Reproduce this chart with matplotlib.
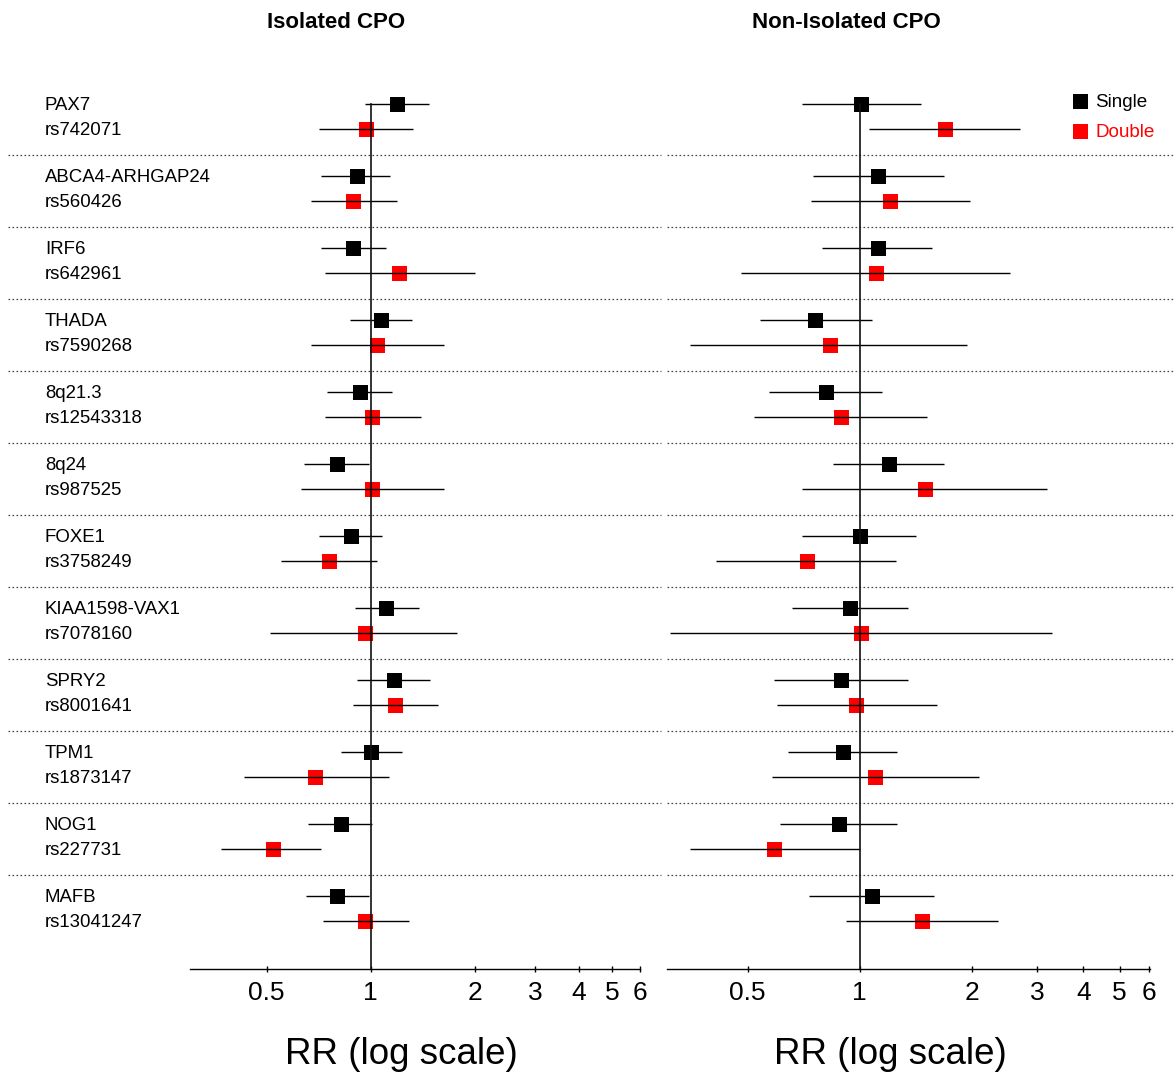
import numpy as np
import matplotlib
matplotlib.use("Agg")
import matplotlib.pyplot as plt
import matplotlib.transforms as mtransforms
from matplotlib.lines import Line2D

plt.rcParams['font.family'] = ['Liberation Sans', 'DejaVu Sans']

# ---------------- data ----------------
genes = ["PAX7", "ABCA4-ARHGAP24", "IRF6", "THADA", "8q21.3", "8q24", "FOXE1",
         "KIAA1598-VAX1", "SPRY2", "TPM1", "NOG1", "MAFB"]
snps = ["rs742071", "rs560426", "rs642961", "rs7590268", "rs12543318", "rs987525",
        "rs3758249", "rs7078160", "rs8001641", "rs1873147", "rs227731", "rs13041247"]

# Isolated CPO
iso_single_rr = [1.19, 0.91, 0.89, 1.07, 0.93, 0.80, 0.88, 1.11, 1.17, 1.00, 0.82, 0.80]
iso_single_lo = [0.96, 0.72, 0.72, 0.87, 0.75, 0.64, 0.71, 0.90, 0.91, 0.82, 0.66, 0.65]
iso_single_hi = [1.48, 1.14, 1.11, 1.32, 1.15, 0.99, 1.08, 1.38, 1.49, 1.23, 1.01, 0.99]
iso_double_rr = [0.97, 0.89, 1.21, 1.04, 1.01, 1.01, 0.76, 0.96, 1.18, 0.69, 0.52, 0.96]
iso_double_lo = [0.71, 0.67, 0.74, 0.67, 0.74, 0.63, 0.55, 0.51, 0.89, 0.43, 0.37, 0.73]
iso_double_hi = [1.33, 1.19, 2.01, 1.63, 1.40, 1.63, 1.04, 1.78, 1.57, 1.13, 0.72, 1.29]

# Non-Isolated CPO
non_single_rr = [1.01, 1.12, 1.12, 0.76, 0.81, 1.20, 1.00, 0.94, 0.89, 0.90, 0.88, 1.08]
non_single_lo = [0.70, 0.75, 0.79, 0.54, 0.57, 0.85, 0.70, 0.66, 0.59, 0.64, 0.61, 0.73]
non_single_hi = [1.46, 1.69, 1.57, 1.08, 1.15, 1.69, 1.42, 1.35, 1.35, 1.26, 1.26, 1.59]
non_double_rr = [1.70, 1.21, 1.11, 0.83, 0.89, 1.50, 0.72, 1.01, 0.98, 1.10, 0.59, 1.47]
non_double_lo = [1.06, 0.74, 0.48, 0.35, 0.52, 0.70, 0.41, 0.31, 0.60, 0.58, 0.35, 0.92]
non_double_hi = [2.70, 1.98, 2.54, 1.94, 1.52, 3.20, 1.25, 3.30, 1.61, 2.09, 1.00, 2.35]

tick_values = [0.5, 1, 2, 3, 4, 5, 6]
tick_labels = ["0.5", "1", "2", "3", "4", "5", "6"]
panel_titles = ["Isolated CPO", "Non-Isolated CPO"]
series_names = ["Single", "Double"]
series_colors = ["black", "red"]

# ---------------- layout ----------------
W, H = 1175, 1074
fig = plt.figure(figsize=(W / 100, H / 100), dpi=100)

DOUBLE_OFF = 25 / 72
SEP_OFF = 0.71
Y_TOP = -0.194
Y_BOT = 12.014
ax_bottom_px, ax_top_px = 969, 90


def fx(px):
    return px / W


def fy(py):
    return 1 - py / H


axL = fig.add_axes([fx(190), fy(ax_bottom_px), fx(640) - fx(190), fy(ax_top_px) - fy(ax_bottom_px)])
axR = fig.add_axes([fx(667.3), fy(ax_bottom_px), fx(1149.5) - fx(667.3), fy(ax_top_px) - fy(ax_bottom_px)])


def draw_panel(ax, s_rr, s_lo, s_hi, d_rr, d_lo, d_hi, xlim, sep_x):
    n = len(s_rr)
    y_s = np.arange(n)
    y_d = y_s + DOUBLE_OFF
    ax.plot(s_rr, y_s, 's', color=series_colors[0], ms=10.8, mew=0, zorder=2)
    ax.plot(d_rr, y_d, 's', color=series_colors[1], ms=10.8, mew=0, zorder=2)
    ax.hlines(y_s, s_lo, s_hi, color='black', lw=1.0, zorder=3)
    ax.hlines(y_d, d_lo, d_hi, color='black', lw=1.0, zorder=3)
    ax.set_xscale('log')
    ax.set_xlim(*xlim)
    ax.set_ylim(Y_BOT, Y_TOP)
    ax.plot([1, 1], [0, Y_BOT], color='#111111', lw=1.2, zorder=4)
    for s in ['top', 'right', 'left']:
        ax.spines[s].set_visible(False)
    ax.spines['bottom'].set_linewidth(1.0)
    ax.set_yticks([])
    ax.xaxis.set_minor_locator(matplotlib.ticker.NullLocator())
    ax.set_xticks(tick_values)
    ax.set_xticklabels(tick_labels)
    ax.tick_params(axis='x', direction='inout', length=5, width=1.0, labelsize=19, pad=6)
    trans = mtransforms.blended_transform_factory(ax.transAxes, ax.transData)
    for i in range(n - 1):
        ax.plot(sep_x, [i + SEP_OFF] * 2, transform=trans, clip_on=False,
                color='#444444', lw=0.9, linestyle=(0, (1.3, 1.9)), zorder=1)


draw_panel(axL, iso_single_rr, iso_single_lo, iso_single_hi,
           iso_double_rr, iso_double_lo, iso_double_hi,
           (0.3, 6.02), [(8 - 190) / 450, (661 - 190) / 450])
draw_panel(axR, non_single_rr, non_single_lo, non_single_hi,
           non_double_rr, non_double_lo, non_double_hi,
           (0.304, 6.02), [0.0, (1175 - 667.3) / 482.2])

# row labels
tl = mtransforms.blended_transform_factory(fig.transFigure, axL.transData)
for i, (g, r) in enumerate(zip(genes, snps)):
    axL.text(fx(45), i, g, transform=tl, ha='left', va='center_baseline', fontsize=13.4, clip_on=False)
    axL.text(fx(45), i + DOUBLE_OFF, r, transform=tl, ha='left', va='center_baseline', fontsize=13.4, clip_on=False)

# titles
fig.text(fx(336), fy(22), panel_titles[0], ha='center', va='center', fontsize=16, fontweight='bold')
fig.text(fx(846), fy(22), panel_titles[1], ha='center', va='center', fontsize=16, fontweight='bold')

# x labels
fig.text(fx(401), fy(1054), "RR (log scale)", ha='center', va='center', fontsize=26.5)
fig.text(fx(890), fy(1054), "RR (log scale)", ha='center', va='center', fontsize=26.5)

# legend
handles = [Line2D([], [], marker='s', linestyle='none', color=c, ms=10.8, mew=0) for c in series_colors]
leg = fig.legend(handles, series_names, loc='upper left', bbox_to_anchor=(fx(1071), fy(94)),
                 frameon=False, fontsize=13.6, handlelength=1.0, handletextpad=0.3,
                 borderpad=0, borderaxespad=0, labelspacing=0.68)
for t, c in zip(leg.get_texts(), series_colors):
    t.set_color(c)

fig.savefig("out.png", dpi=100)
